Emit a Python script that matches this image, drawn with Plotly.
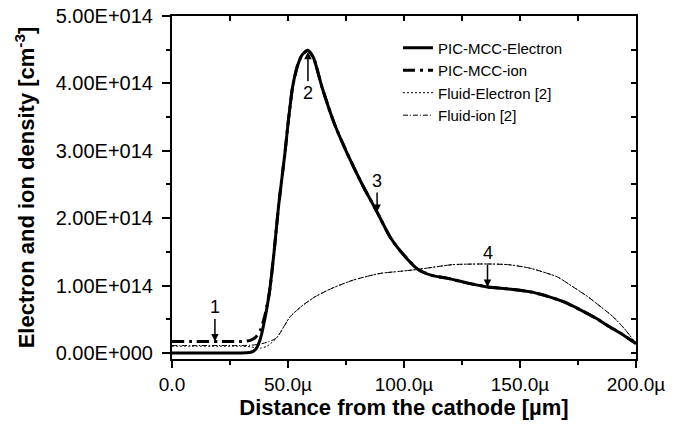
import plotly.graph_objects as go

# ---- data (x in µm, density in cm^-3) ----
x_e = [0, 10, 20, 30, 32, 34, 36, 38, 40, 42, 44, 46, 48.7, 50, 52, 54, 56, 58.6, 61, 64.6, 70, 75.4,
       82, 88.4, 94, 98, 106, 112, 118.4, 127, 136, 145, 154, 162, 168.7, 176, 183, 188, 193, 200]
pic_e = [0, 0, 0, 0, 0.002e14, 0.01e14, 0.05e14, 0.2e14, 0.5e14, 0.9e14, 1.5e14, 2.2e14, 2.97e14, 3.4e14,
         3.95e14, 4.25e14, 4.42e14, 4.49e14, 4.38e14, 3.95e14, 3.4e14, 2.97e14, 2.5e14, 2.09e14, 1.72e14,
         1.53e14, 1.24e14, 1.15e14, 1.11e14, 1.04e14, 0.98e14, 0.95e14, 0.91e14, 0.84e14, 0.76e14,
         0.64e14, 0.51e14, 0.40e14, 0.30e14, 0.14e14]

x_i = [0, 10, 20, 30, 32, 34, 36, 38, 40, 42, 44]
pic_i = [0.17e14, 0.17e14, 0.17e14, 0.17e14, 0.175e14, 0.19e14, 0.23e14, 0.33e14, 0.55e14, 0.9e14, 1.5e14]

x_f = [0, 10, 20, 30, 34, 38, 41, 45, 51, 56.5, 62, 69, 78, 89.7, 98, 106, 121, 135.6, 145, 154, 166,
       172, 179, 185, 190, 195, 200]
fluid_e = [0.10e14, 0.10e14, 0.10e14, 0.10e14, 0.09e14, 0.07e14, 0.10e14, 0.22e14, 0.54e14, 0.71e14,
           0.84e14, 0.96e14, 1.08e14, 1.18e14, 1.21e14, 1.24e14, 1.31e14, 1.32e14, 1.31e14, 1.26e14,
           1.13e14, 1.0e14, 0.84e14, 0.68e14, 0.54e14, 0.36e14, 0.14e14]
fluid_i = [0.11e14, 0.11e14, 0.11e14, 0.11e14, 0.115e14, 0.13e14, 0.16e14, 0.22e14, 0.54e14, 0.71e14,
           0.84e14, 0.96e14, 1.08e14, 1.18e14, 1.21e14, 1.24e14, 1.31e14, 1.32e14, 1.31e14, 1.26e14,
           1.13e14, 1.0e14, 0.84e14, 0.68e14, 0.54e14, 0.36e14, 0.14e14]

series_names = ["PIC-MCC-Electron", "PIC-MCC-ion", "Fluid-Electron [2]", "Fluid-ion [2]"]

x_tickvals = [0, 50, 100, 150, 200]
x_ticktext = ["0.0", "50.0µ", "100.0µ", "150.0µ", "200.0µ"]
y_tickvals = [0, 1e14, 2e14, 3e14, 4e14, 5e14]
y_ticktext = ["0.00E+000", "1.00E+014", "2.00E+014", "3.00E+014", "4.00E+014", "5.00E+014"]

# annotations: (label, x, y, ay offset px)
marks = [("1", 18.5, 0.17e14, -34), ("2", 58.6, 4.47e14, 41), ("3", 88.4, 2.09e14, -31), ("4", 136, 0.98e14, -34)]

# PIC ion follows electron curve after merging
x_i_full = x_i + [v for v in x_e if v > 44]
pic_i_full = pic_i + [pic_e[k] for k, v in enumerate(x_e) if v > 44]

FONT = "Liberation Sans, Arial, sans-serif"
fig = go.Figure()
fig.add_trace(go.Scatter(x=x_e, y=pic_e, mode="lines", name=series_names[0],
                         line=dict(color="black", width=3, shape="spline", smoothing=0.6)))
fig.add_trace(go.Scatter(x=x_i_full, y=pic_i_full, mode="lines", name=series_names[1],
                         line=dict(color="black", width=3, dash="12px,5px,3px,5px", shape="spline", smoothing=0.6)))
fig.add_trace(go.Scatter(x=x_f, y=fluid_e, mode="lines", name=series_names[2], yaxis="y2",
                         line=dict(color="black", width=1, dash="2px,2px", shape="spline", smoothing=0.6)))
fig.add_trace(go.Scatter(x=x_f, y=fluid_i, mode="lines", name=series_names[3], xaxis="x2",
                         line=dict(color="black", width=1, dash="5px,2px,1px,2px", shape="spline", smoothing=0.6)))

yr = [-0.09e14, 5e14]
fig.update_layout(
    width=686, height=429,
    margin=dict(l=172, r=50, t=16, b=70),
    paper_bgcolor="white", plot_bgcolor="white",
    font=dict(family=FONT, color="black", size=19),
    showlegend=True,
    legend=dict(x=0.487, y=0.955, xanchor="left", yanchor="top", bgcolor="rgba(0,0,0,0)",
                font=dict(family=FONT, size=15), tracegroupgap=0),
    xaxis=dict(range=[0, 200], tickmode="array", tickvals=x_tickvals, ticktext=x_ticktext,
               ticks="outside", ticklen=7, tickwidth=2, tickcolor="black", automargin=False,
               ticklabeloverflow="allow",
               minor=dict(tickvals=[25, 75, 125, 175], ticks="outside", ticklen=4, tickwidth=2, tickcolor="black"),
               showline=True, mirror=True, linewidth=2, linecolor="black", showgrid=False, zeroline=False,
               tickfont=dict(size=19),
               title=dict(text="<b>Distance from the cathode [µm]</b>", font=dict(size=22), standoff=2)),
    yaxis=dict(range=yr, tickmode="array", tickvals=y_tickvals, ticktext=y_ticktext,
               ticks="outside", ticklen=8, tickwidth=2, tickcolor="black", automargin=False,
               ticklabelstandoff=5, ticklabeloverflow="allow",
               minor=dict(tickvals=[0.5e14, 1.5e14, 2.5e14, 3.5e14, 4.5e14], ticks="outside", ticklen=4,
                          tickwidth=2, tickcolor="black"),
               showline=True, mirror=True, linewidth=2, linecolor="black", showgrid=False, zeroline=False,
               tickfont=dict(size=20),
               title=dict(text="<b>Electron and ion density [cm<sup>-3</sup>]</b>", font=dict(size=22), standoff=15)),
    xaxis2=dict(range=[0, 200], overlaying="x", side="top", tickmode="array", automargin=False,
                tickvals=[0, 25, 50, 75, 100, 125, 150, 175, 200], ticks="inside", ticklen=5, tickwidth=2,
                tickcolor="black", showticklabels=False, showline=False,
                showgrid=False, zeroline=False),
    yaxis2=dict(range=yr, overlaying="y", side="right", tickmode="array", automargin=False,
                tickvals=[0, 0.5e14, 1e14, 1.5e14, 2e14, 2.5e14, 3e14, 3.5e14, 4e14, 4.5e14, 5e14],
                ticks="inside", ticklen=5, tickwidth=2, tickcolor="black", showticklabels=False,
                showline=False, showgrid=False, zeroline=False),
)

for lab, xv, yv, ay in marks:
    fig.add_annotation(x=xv, y=yv, xref="x", yref="y", text=lab, showarrow=True, ax=0, ay=ay,
                       arrowhead=2, arrowsize=1, arrowwidth=1.5, arrowcolor="black",
                       font=dict(family=FONT, size=18, color="black"))

fig.write_html("out.html", config={"displayModeBar": False},
               post_script="document.body.style.margin='0';")
